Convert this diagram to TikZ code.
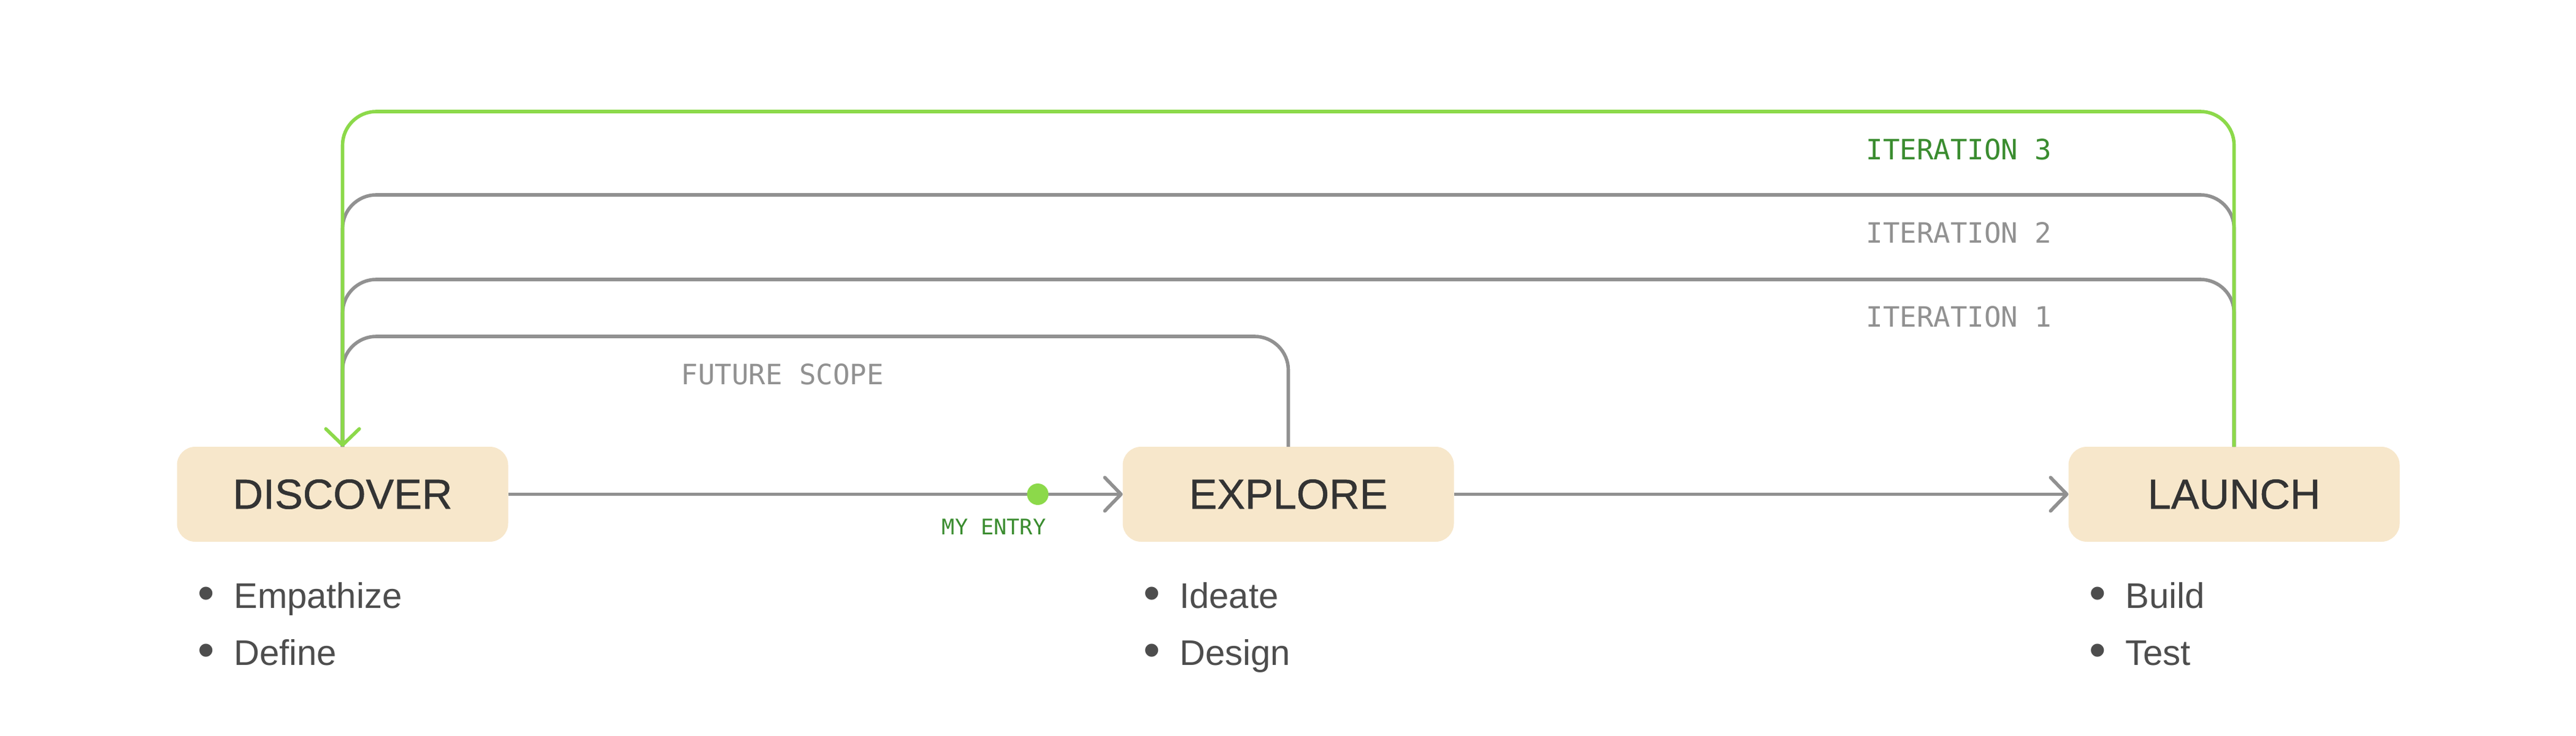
\documentclass[tikz,border=0pt]{standalone}
\usepackage{fontspec}
\setmainfont{Liberation Sans}
\setmonofont{DejaVu Sans Mono}
\newfontfamily\phasefont{Liberation Sans}[FakeBold=0.7]
\usepackage{xcolor}
\definecolor{colorPhase}{HTML}{F7E7CB}
\definecolor{colorPhaseText}{HTML}{333333}
\definecolor{colorItem}{HTML}{4D4D4D}
\definecolor{colorLoop}{HTML}{919191}
\definecolor{colorCurrent}{HTML}{8CD94A}
\definecolor{colorCurrentText}{HTML}{3A8C2F}
\usetikzlibrary{arrows.meta, positioning}
\newcommand{\itembullet}{\raisebox{-0.8pt}{\scalebox{1.35}{\textbullet}}\hspace{9pt}}

\begin{document}
\begin{tikzpicture}[>={Straight Barb[length=7.5pt, width=15.5pt, round]}, line width=1.6pt, node distance=10.02cm,
  phase/.style={fill=colorPhase, rounded corners=0.3cm, minimum width=5.4cm, minimum height=1.55cm, inner sep=0pt, outer sep=0pt, text=colorPhaseText, font=\phasefont\fontsize{19.5}{23}\selectfont},
  item/.style={anchor=base west, inner sep=0pt, text=colorItem, font=\fontsize{16.5}{20}\selectfont},
  looplabel/.style={anchor=base west, inner sep=0pt, text=colorLoop, font=\ttfamily\fontsize{13}{16}\selectfont},
  iterline/.style={colorLoop, rounded corners=0.55cm}]
\useasboundingbox (0,0) rectangle (42,12);
% phases
\node[phase] (disc) at (5.585,3.935) {DISCOVER};
\node[phase, right=of disc] (expl) {EXPLORE};
\node[phase, right=of expl] (laun) {LAUNCH};
% heights of the loops
\coordinate (lvl3) at (0,10.18);
\coordinate (lvl2) at (0,8.82);
\coordinate (lvl1) at (0,7.44);
\coordinate (lvl0) at (0,6.51);
% loops back to discover
\draw[iterline] (laun.north) -- (laun.north |- lvl2) -- (disc.north |- lvl2) -- (disc.north);
\draw[iterline] (laun.north) -- (laun.north |- lvl1) -- (disc.north |- lvl1) -- (disc.north);
\draw[iterline] (expl.north) -- (expl.north |- lvl0) -- (disc.north |- lvl0) -- (disc.north);
\draw[->, colorCurrent, rounded corners=0.55cm] (laun.north) -- (laun.north |- lvl3) -- (disc.north |- lvl3) -- (disc.north);
\node[looplabel, text=colorCurrentText] (it3) at (30.40,9.39) {ITERATION 3};
\node[looplabel] (it2) at (30.40,8.04) {ITERATION 2};
\node[looplabel] (it1) at (30.40,6.67) {ITERATION 1};
\node[looplabel] (fut) at (11.08,5.73) {FUTURE SCOPE};
% main flow
\draw[->, colorLoop] (disc) -- (expl);
\draw[->, colorLoop] (expl) -- (laun);
\node[circle, fill=colorCurrent, minimum size=0.35cm, inner sep=0pt] (entry) at (16.92,3.935) {};
\node[looplabel, anchor=base east, text=colorCurrentText, font=\ttfamily\fontsize{10}{12}\selectfont] (entrylbl) at (17.08,3.28) {MY ENTRY};
% activities
\node[item] (emp) at ([shift={(0.31,-1.08)}]disc.south west) {\itembullet Empathize};
\node[item] (def) at ([yshift=-0.93cm]emp.base west) {\itembullet Define};
\node[item] (ide) at ([shift={(0.31,-1.08)}]expl.south west) {\itembullet Ideate};
\node[item] (des) at ([yshift=-0.93cm]ide.base west) {\itembullet Design};
\node[item] (bui) at ([shift={(0.31,-1.08)}]laun.south west) {\itembullet Build};
\node[item] (tes) at ([yshift=-0.93cm]bui.base west) {\itembullet Test};
\end{tikzpicture}
\end{document}
